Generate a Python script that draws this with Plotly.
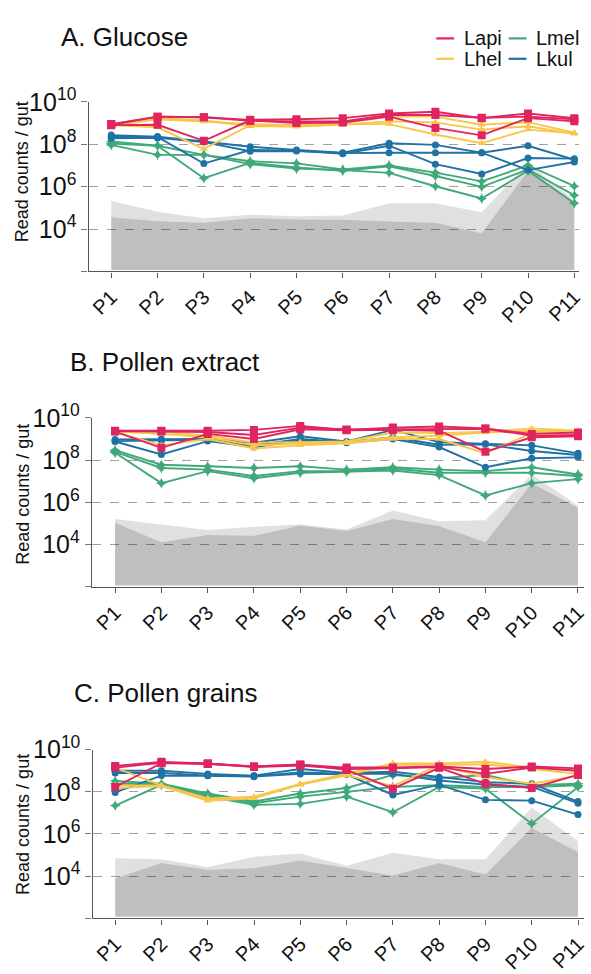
import numpy as np
import plotly.graph_objects as go

W, H = 591, 974
FONT = "Liberation Sans, Arial, sans-serif"

CATS = ["P1", "P2", "P3", "P4", "P5", "P6", "P7", "P8", "P9", "P10", "P11"]
SPECIES = ["Lapi", "Lhel", "Lmel", "Lkul"]
COLORS = {"Lapi": "#E0245E", "Lhel": "#F9C54B", "Lmel": "#40A97A", "Lkul": "#1F72A3"}
SYMBOLS = {"Lapi": "square", "Lhel": "triangle-up", "Lmel": "star-diamond", "Lkul": "circle"}
MSIZE = {"Lapi": 8, "Lhel": 7, "Lmel": 8, "Lkul": 7}
DRAW_ORDER = ["Lmel", "Lkul", "Lhel", "Lapi"]

# values are log10(read counts / gut), three replicate lines per species
A_LAPI = [[8.92, 9.30, 9.27, 9.15, 9.18, 9.23, 9.45, 9.53, 9.23, 9.45, 9.23],
          [8.95, 9.30, 9.27, 9.10, 9.08, 9.08, 9.38, 9.38, 9.25, 9.30, 9.18],
          [8.90, 8.92, 8.16, 9.13, 9.00, 9.02, 9.30, 8.77, 8.42, 9.23, 9.08]]
A_LHEL = [[8.88, 9.18, 9.07, 8.95, 8.90, 9.00, 9.30, 9.30, 8.92, 9.04, 8.54],
          [8.85, 9.25, 9.12, 8.85, 8.85, 8.92, 9.08, 9.03, 8.69, 8.85, 8.49],
          [8.90, 8.80, 7.78, 8.90, 8.82, 8.95, 8.95, 8.46, 8.05, 8.69, 8.52]]
A_LMEL = [[8.13, 7.93, 7.50, 7.20, 7.10, 6.81, 7.00, 6.66, 6.25, 7.00, 6.02],
          [8.03, 7.93, 6.40, 7.12, 6.90, 6.75, 6.96, 6.50, 5.99, 6.81, 5.59],
          [7.97, 7.50, 7.50, 7.06, 6.85, 6.78, 6.65, 6.02, 5.44, 6.75, 5.22]]
A_LKUL = [[8.43, 8.36, 8.13, 7.88, 7.73, 7.60, 8.05, 7.97, 7.60, 7.93, 7.27],
          [8.34, 8.34, 7.09, 7.73, 7.70, 7.55, 7.93, 7.06, 6.60, 7.35, 7.32],
          [8.28, 8.30, 8.10, 7.67, 7.68, 7.58, 7.60, 7.60, 7.60, 6.78, 7.16]]
A_LIGHT = [5.33, 4.82, 4.51, 4.68, 4.60, 4.64, 5.22, 5.22, 4.79, 7.11, 5.35]
A_DARK = [4.56, 4.37, 4.30, 4.51, 4.45, 4.44, 4.36, 4.30, 3.80, 6.75, 5.22]

B_LAPI = [[9.39, 9.39, 9.39, 9.43, 9.62, 9.43, 9.54, 9.59, 9.50, 9.24, 9.31],
          [9.37, 9.36, 9.33, 9.19, 9.54, 9.45, 9.46, 9.46, 9.48, 9.16, 9.19],
          [9.35, 8.58, 9.24, 9.00, 9.46, 9.41, 9.43, 9.39, 8.40, 9.08, 9.13]]
B_LHEL = [[9.37, 9.34, 9.16, 8.82, 8.85, 8.88, 9.31, 9.28, 9.34, 9.50, 9.39],
          [9.35, 9.24, 9.08, 8.70, 8.78, 8.84, 9.08, 9.16, 9.31, 9.39, 9.36],
          [9.33, 8.70, 9.00, 8.55, 8.70, 8.80, 9.00, 9.00, 8.32, 9.28, 9.33]]
B_LMEL = [[8.47, 7.78, 7.71, 7.63, 7.71, 7.55, 7.66, 7.55, 7.48, 7.66, 7.32],
          [8.39, 7.63, 7.55, 7.25, 7.48, 7.48, 7.60, 7.40, 7.40, 7.40, 7.25],
          [8.35, 6.91, 7.48, 7.14, 7.40, 7.45, 7.51, 7.29, 6.33, 6.91, 7.10]]
B_LKUL = [[8.98, 9.00, 9.00, 8.82, 9.13, 8.88, 9.43, 8.85, 8.78, 8.70, 8.32],
          [8.90, 8.93, 8.96, 8.70, 9.00, 8.85, 9.08, 8.73, 8.75, 8.43, 8.24],
          [8.88, 8.27, 8.90, 8.62, 8.93, 8.82, 9.00, 8.62, 7.66, 8.09, 8.13]]
B_LIGHT = [5.21, 4.95, 4.69, 4.85, 4.95, 4.72, 5.61, 5.11, 5.15, 7.32, 5.85]
B_DARK = [5.03, 4.11, 4.46, 4.42, 4.90, 4.65, 5.21, 4.88, 4.11, 6.90, 5.75]

C_LAPI = [[9.23, 9.42, 9.34, 9.20, 9.28, 9.15, 9.15, 9.20, 9.08, 9.20, 9.11],
          [9.15, 9.38, 9.34, 9.18, 9.25, 9.08, 9.11, 9.17, 8.85, 9.15, 9.00],
          [8.23, 9.36, 9.32, 9.20, 9.30, 9.04, 8.15, 9.14, 8.38, 8.18, 8.80]]
C_LHEL = [[9.15, 8.31, 7.69, 7.77, 8.38, 8.85, 9.35, 9.35, 9.43, 9.15, 9.00],
          [8.31, 8.29, 7.58, 7.69, 8.36, 8.80, 9.28, 9.31, 9.31, 9.08, 8.85],
          [8.18, 8.27, 7.60, 7.72, 8.34, 8.78, 8.28, 9.26, 8.69, 8.38, 8.77]]
C_LMEL = [[8.51, 8.38, 7.92, 7.54, 7.92, 8.18, 8.80, 8.65, 8.80, 8.31, 8.38],
          [8.38, 8.35, 7.85, 7.46, 7.77, 8.00, 8.23, 8.31, 8.23, 8.23, 8.31],
          [7.35, 8.33, 7.77, 7.38, 7.43, 7.77, 7.03, 8.23, 8.15, 6.49, 8.23]]
C_LKUL = [[9.00, 9.00, 8.85, 8.77, 9.08, 8.89, 8.95, 8.69, 8.46, 8.38, 7.54],
          [8.89, 8.89, 8.77, 8.74, 8.92, 8.86, 8.85, 8.54, 8.34, 8.23, 7.46],
          [7.97, 8.77, 8.76, 8.72, 8.85, 8.83, 7.85, 8.34, 7.62, 7.58, 6.92]]
C_LIGHT = [4.85, 4.80, 4.43, 4.92, 5.08, 4.49, 5.11, 4.80, 4.80, 7.26, 5.66]
C_DARK = [3.89, 4.62, 4.31, 4.38, 4.74, 4.38, 4.03, 4.62, 4.08, 6.28, 5.15]

FILL_BASE = 2.07  # log10 floor of the grey areas

PANELS = [
    {"title": "A. Glucose", "series": {"Lapi": A_LAPI, "Lhel": A_LHEL, "Lmel": A_LMEL, "Lkul": A_LKUL},
     "light": A_LIGHT, "dark": A_DARK,
     "xpx": (89.3, 583.9), "xrange": [-0.49, 10.1], "ypx": (86.3, 261.0),
     "title_px": (60, 20), "ytitle_py": 158},
    {"title": "B. Pollen extract", "series": {"Lapi": B_LAPI, "Lhel": B_LHEL, "Lmel": B_LMEL, "Lkul": B_LKUL},
     "light": B_LIGHT, "dark": B_DARK,
     "xpx": (92.7, 589.0), "xrange": [-0.5, 10.13], "ypx": (411.7, 585.7),
     "title_px": (69, 354), "ytitle_py": 490},
    {"title": "C. Pollen grains", "series": {"Lapi": C_LAPI, "Lhel": C_LHEL, "Lmel": C_LMEL, "Lkul": C_LKUL},
     "light": C_LIGHT, "dark": C_DARK,
     "xpx": (93.3, 589.0), "xrange": [-0.49, 10.13], "ypx": (753.3, 927.0),
     "title_px": (73, 695), "ytitle_py": 830},
]

TICKVALS = [1e2, 1e4, 1e6, 1e8, 1e10]
TICKTEXT = ["", "10<sup>4</sup>", "10<sup>6</sup>", "10<sup>8</sup>", "10<sup>10</sup>"]

fig = go.Figure()
annotations = []
shapes = []

for i, p in enumerate(PANELS):
    sfx = "" if i == 0 else str(i + 1)
    xa, ya = "x" + sfx, "y" + sfx
    # grey areas
    fig.add_trace(go.Scatter(x=CATS, y=10 ** np.full(len(CATS), FILL_BASE), mode="lines",
                             line=dict(width=0), xaxis=xa, yaxis=ya, showlegend=False, hoverinfo="skip"))
    fig.add_trace(go.Scatter(x=CATS, y=10 ** np.array(p["dark"]), mode="lines", fill="tonexty",
                             fillcolor="rgba(0,0,0,0.25)", line=dict(width=0),
                             xaxis=xa, yaxis=ya, showlegend=False, hoverinfo="skip"))
    fig.add_trace(go.Scatter(x=CATS, y=10 ** np.array(p["light"]), mode="lines", fill="tonexty",
                             fillcolor="rgba(0,0,0,0.12)", line=dict(width=0),
                             xaxis=xa, yaxis=ya, showlegend=False, hoverinfo="skip"))
    for sp in DRAW_ORDER:
        for rep in p["series"][sp]:
            fig.add_trace(go.Scatter(
                x=CATS, y=10 ** np.array(rep), mode="lines+markers",
                line=dict(color=COLORS[sp], width=1.9),
                marker=dict(symbol=SYMBOLS[sp], size=MSIZE[sp], color=COLORS[sp], line=dict(width=0)),
                xaxis=xa, yaxis=ya, showlegend=False, name=sp))

    x0, x1 = p["xpx"]
    y0, y1 = p["ypx"]
    fig.update_layout(**{
        "xaxis" + sfx: dict(domain=[x0 / W, x1 / W], range=p["xrange"], anchor=ya,
                            type="category", showgrid=False, showline=True, linecolor="#555555",
                            linewidth=1.3, ticks="outside", ticklen=5, tickcolor="#555555",
                            tickangle=-45, tickfont=dict(size=20, color="#111111", family=FONT),
                            zeroline=False, fixedrange=True),
        "yaxis" + sfx: dict(domain=[1 - y1 / H, 1 - y0 / H], range=[2, 10], type="log", anchor=xa,
                            tickvals=TICKVALS, ticktext=TICKTEXT, showgrid=True,
                            gridcolor="#a0a0a0", griddash="dash", gridwidth=1.1,
                            showline=True, linecolor="#555555", linewidth=1.3,
                            ticks="outside", ticklen=6, tickcolor="#777777",
                            tickfont=dict(size=25, color="#111111", family=FONT),
                            zeroline=False, fixedrange=True),
    })
    tx, ty = p["title_px"]
    annotations.append(dict(text=p["title"], xref="paper", yref="paper", x=tx / W, y=1 - ty / H,
                            xanchor="left", yanchor="middle", showarrow=False,
                            font=dict(size=26, color="#111111", family=FONT)))
    annotations.append(dict(text="Read counts / gut", xref="paper", yref="paper", x=23 / W,
                            y=1 - p["ytitle_py"] / H, xanchor="center", yanchor="middle",
                            textangle=-90, showarrow=False,
                            font=dict(size=18, color="#111111", family=FONT)))

# legend (2 x 2)
LEGEND_POS = {"Lapi": (440, 21), "Lmel": (513, 21), "Lhel": (440, 42), "Lkul": (513, 42)}
for sp, (lx, ly) in LEGEND_POS.items():
    shapes.append(dict(type="line", xref="paper", yref="paper", x0=lx / W, x1=(lx + 18) / W,
                       y0=1 - ly / H, y1=1 - ly / H, line=dict(color=COLORS[sp], width=2.2)))
    annotations.append(dict(text=sp, xref="paper", yref="paper", x=(lx + 26) / W, y=1 - ly / H,
                            xanchor="left", yanchor="middle", showarrow=False,
                            font=dict(size=20, color="#111111", family=FONT)))

fig.update_layout(width=W, height=H, autosize=False, margin=dict(l=0, r=0, t=0, b=0),
                  paper_bgcolor="white", plot_bgcolor="white", showlegend=False,
                  annotations=annotations, shapes=shapes, font=dict(family=FONT))

fig.write_html("out.html")
